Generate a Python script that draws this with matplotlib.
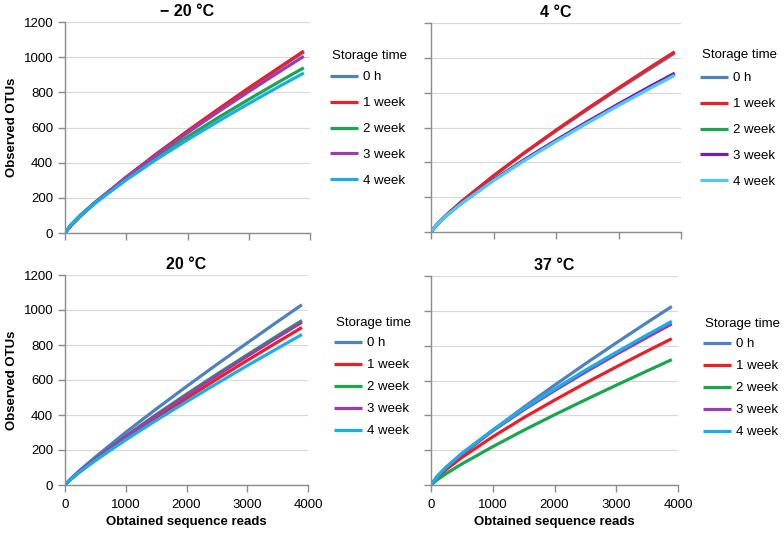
import matplotlib.pyplot as plt

plt.rcParams['font.family'] = ['Liberation Sans', 'DejaVu Sans']

# sample points on the rarefaction curves
reads = [0, 100, 250, 500, 1000, 1500, 2000, 2500, 3000, 3500, 3900]
labels = ['0 h', '1 week', '2 week', '3 week', '4 week']
titles = ['\u2212 20 \u00b0C', '4 \u00b0C', '20 \u00b0C', '37 \u00b0C']

# -20 C
m20 = [
    [0, 43, 95, 174, 317, 450, 578, 701, 821, 938, 1030],
    [0, 43, 96, 175, 318, 452, 580, 704, 825, 942, 1035],
    [0, 48, 102, 178, 312, 434, 547, 656, 760, 861, 940],
    [0, 45, 97, 175, 316, 446, 570, 689, 804, 917, 1005],
    [0, 47, 98, 172, 302, 420, 530, 635, 736, 834, 910],
]
# 4 C
p4 = [
    [0, 45, 98, 177, 321, 454, 580, 702, 821, 936, 1027],
    [0, 45, 99, 179, 323, 457, 585, 708, 827, 944, 1035],
    [0, 45, 95, 169, 297, 415, 525, 631, 732, 831, 908],
    [0, 45, 96, 169, 299, 417, 527, 633, 735, 835, 912],
    [0, 45, 95, 167, 295, 411, 520, 625, 726, 824, 900],
]
# 20 C
p20 = [
    [0, 37, 86, 160, 301, 434, 563, 689, 812, 934, 1030],
    [0, 34, 77, 143, 266, 383, 495, 605, 712, 817, 900],
    [0, 36, 81, 151, 280, 402, 519, 633, 744, 854, 940],
    [0, 36, 81, 149, 277, 397, 513, 626, 736, 845, 930],
    [0, 34, 76, 140, 258, 369, 476, 580, 682, 781, 860],
]
# 37 C
p37 = [
    [0, 42, 94, 172, 314, 446, 573, 696, 816, 933, 1025],
    [0, 42, 90, 158, 277, 386, 487, 585, 678, 769, 840],
    [0, 30, 66, 121, 220, 314, 403, 489, 573, 655, 720],
    [0, 49, 103, 179, 311, 431, 542, 648, 750, 848, 925],
    [0, 50, 104, 182, 316, 438, 551, 659, 762, 862, 940],
]

colors_a = ['#4F81BD', '#E8202A', '#1CA54F', '#9B3DAE', '#1AAEE8']
colors_b = ['#4F81BD', '#E8202A', '#1CA54F', '#7020B0', '#4FC8F5']

W, H = 784, 534
fig = plt.figure(figsize=(W / 100, H / 100), dpi=100)

# axes boxes in pixels: left, top, right, bottom
boxes = [(65, 22, 310, 233), (431, 23, 681, 232), (65, 275, 308, 485), (431, 276, 678, 485)]
data = [m20, p4, p20, p37]
pal = [colors_a, colors_b, colors_a, colors_a]
# legend: x, title centre y, top of first entry, row spacing
leg = [(330, 56, 71, 1.04), (700, 55, 72, 1.04), (334, 323, 337, 0.74), (703, 324, 338, 0.74)]
fs = 9.5

for i in range(4):
    l, t, r, b = boxes[i]
    ax = fig.add_axes([l / W, 1 - b / H, (r - l) / W, (b - t) / H])
    for j in range(5):
        ax.plot(reads, data[i][j], color=pal[i][j], lw=2.3, label=labels[j],
                solid_capstyle='butt')
    ax.set_xlim(0, 4000)
    ax.set_ylim(0, 1200)
    ax.set_xticks([0, 1000, 2000, 3000, 4000])
    ax.set_yticks(range(0, 1201, 200))
    ax.grid(axis='y', color='#D9D9D9', lw=0.9)
    ax.set_axisbelow(True)
    for s in ['top', 'right']:
        ax.spines[s].set_visible(False)
    for s in ['left', 'bottom']:
        ax.spines[s].set_color('#8C8C8C')
        ax.spines[s].set_linewidth(1.0)
    ax.tick_params(colors='#8C8C8C', labelcolor='black', labelsize=fs,
                   length=5, width=1.0, direction='out')
    ax.tick_params(axis='x', pad=5)
    if i % 2 == 1:
        ax.tick_params(axis='y', labelleft=False)
    else:
        ax.set_ylabel('Observed OTUs', fontsize=fs, fontweight='bold')
    if i < 2:
        ax.tick_params(axis='x', labelbottom=False)
    else:
        ax.set_xlabel('Obtained sequence reads', fontsize=fs, fontweight='bold', labelpad=4)
    ax.set_title(titles[i], fontsize=11.5, fontweight='bold', pad=4)
    lx, ty, ly, sp = leg[i]
    ax.legend(loc='upper left', bbox_to_anchor=(lx / W, 1 - ly / H),
              bbox_transform=fig.transFigure, frameon=False, fontsize=fs,
              borderpad=0, borderaxespad=0, handlelength=2.1,
              handletextpad=0.4, labelspacing=sp)
    fig.text((lx + 2) / W, 1 - ty / H, 'Storage time', fontsize=fs,
             ha='left', va='center')

fig.savefig('out.png', dpi=100)
